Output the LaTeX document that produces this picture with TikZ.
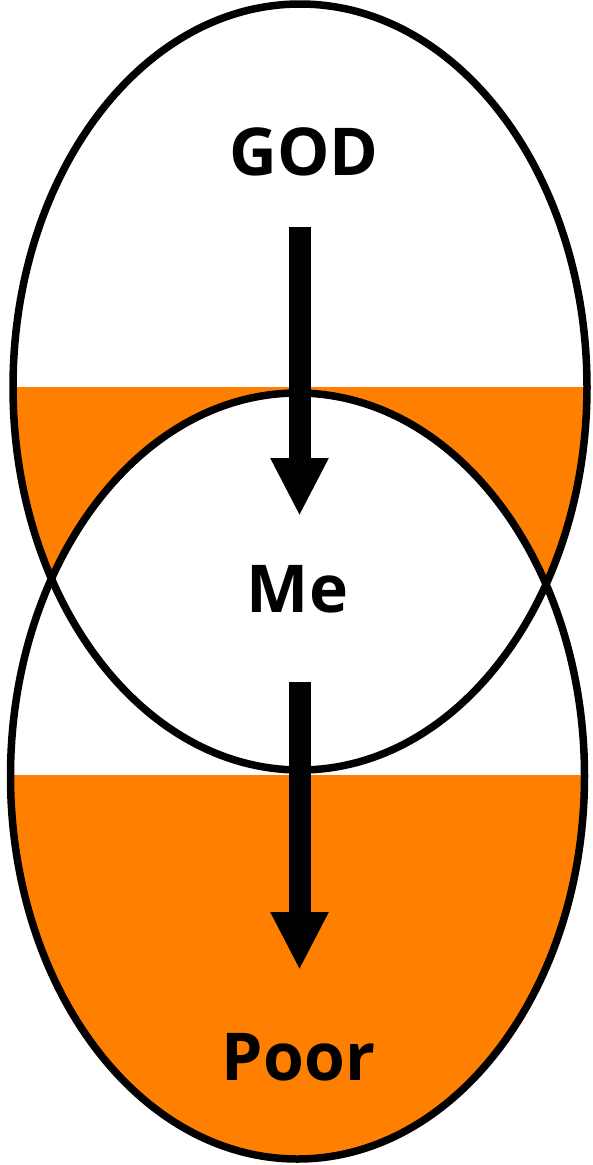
\documentclass[tikz,border=0pt]{standalone}
\usepackage{fontspec}
\setmainfont{Open Sans}
\usetikzlibrary{arrows.meta}
\definecolor{fillorange}{RGB}{255,127,0}
\tikzset{
  ring/.style={draw=black, line width=7.5pt},
  label/.style={font=\fontsize{66}{66}\selectfont\bfseries, inner sep=0pt, anchor=center},
  bigarrow/.style={line width=22pt, -{Triangle[width=54pt,length=58pt]}}
}
\begin{document}
\begin{tikzpicture}[x=1pt,y=-1pt]
\useasboundingbox (0,0) rectangle (593,1165);
% top ellipse orange lower half
\begin{scope}
  \clip (300,387) ellipse [x radius=287, y radius=383];
  \fill[fillorange] (0,387) rectangle (593,800);
\end{scope}
% bottom ellipse
\fill[white] (297.5,776) ellipse [x radius=287, y radius=383];
\begin{scope}
  \clip (297.5,776) ellipse [x radius=287, y radius=383];
  \fill[fillorange] (0,775) rectangle (593,1165);
\end{scope}
\draw[ring] (300,387) ellipse [x radius=287, y radius=383];
\draw[ring] (297.5,776) ellipse [x radius=287, y radius=383];
% labels
\node[label] (god) at (304,152) {GOD};
\node[label] (me) at (297.5,589) {Me};
\node[label] (poor) at (298.5,1057) {Poor};
% arrows
\coordinate (a1s) at (299.5,227);
\coordinate (a1e) at (299.5,516);
\coordinate (a2s) at (299.5,682);
\coordinate (a2e) at (299.5,970);
\draw[bigarrow] (a1s) -- (a1e);
\draw[bigarrow] (a2s) -- (a2e);
\end{tikzpicture}
\end{document}
